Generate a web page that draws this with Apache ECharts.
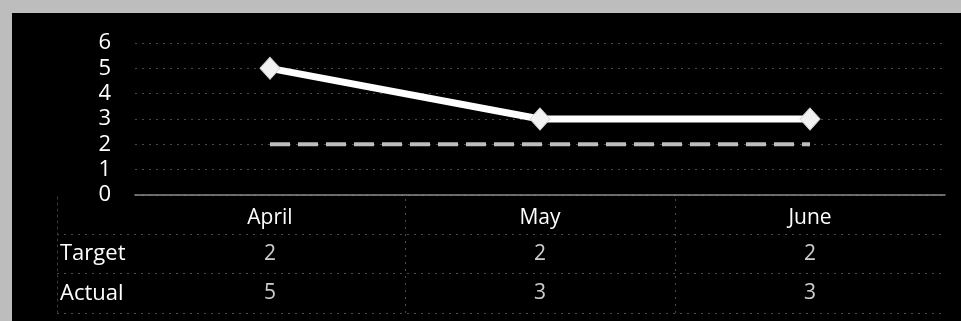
<!DOCTYPE html>
<html>
<head>
<meta charset="utf-8">
<script src="https://cdn.jsdelivr.net/npm/echarts@6/dist/echarts.min.js"></script>
<style>
  html, body { margin: 0; padding: 0; width: 961px; height: 321px; background: #bdbdbd; overflow: hidden; }
  #chart { position: absolute; left: 12px; top: 13px; width: 949px; height: 308px; background: #000; }
</style>
</head>
<body>
<div id="chart"></div>
<script>
const categories = ['April', 'May', 'June'];
const targetValues = [2, 2, 2];
const actualValues = [5, 3, 3];
const yTicks = [0, 1, 2, 3, 4, 5, 6];
const rowNames = ['Actual', 'Target', ''];

const FONT = 'Open Sans';
const faint = '#4a4a4a';

const tableData = [];
categories.forEach((c, i) => {
  tableData.push([i + 0.5, 'Target', targetValues[i]]);
  tableData.push([i + 0.5, 'Actual', actualValues[i]]);
});

const chart = echarts.init(document.getElementById('chart'), null, { renderer: 'canvas' });
// Table grid starts at the row-header column; category width ~270px, header offset 78px
const headerFrac = 78 / 270;

chart.setOption({
  backgroundColor: '#000',
  animation: false,
  grid: [
    { left: 123, right: 16, top: 30, height: 152 },
    { left: 45, right: 16, top: 182, height: 118 }
  ],
  xAxis: [
    {
      type: 'category', gridIndex: 0, data: categories, boundaryGap: true,
      axisLine: { show: true, lineStyle: { color: '#8c8c8c', width: 1.5 } },
      axisTick: { show: false },
      axisLabel: { color: '#fff', fontFamily: FONT, fontSize: 21, margin: 13 },
      splitLine: { show: false }
    },
    {
      type: 'value', gridIndex: 1, min: -headerFrac, max: categories.length,
      show: false
    }
  ],
  yAxis: [
    {
      type: 'value', gridIndex: 0, min: yTicks[0], max: yTicks[yTicks.length - 1], interval: 1,
      axisLine: { show: false }, axisTick: { show: false },
      axisLabel: { color: '#fff', fontFamily: FONT, fontSize: 22, margin: 24 },
      splitLine: { show: true, lineStyle: { color: faint, type: [2, 5], width: 1 } }
    },
    {
      type: 'category', gridIndex: 1, data: rowNames, boundaryGap: true,
      axisLine: { show: true, onZero: false, lineStyle: { color: '#3a3a3a', type: [2, 4], width: 1 } },
      axisTick: { show: false },
      axisLabel: { inside: true, margin: 3, color: '#fff', fontFamily: FONT, fontSize: 22 },
      splitLine: { show: true, showMaxLine: false, lineStyle: { color: faint, type: [2, 5], width: 1 } }
    }
  ],
  series: [
    {
      name: 'Target', type: 'line', xAxisIndex: 0, yAxisIndex: 0, data: targetValues,
      symbol: 'none',
      lineStyle: { color: '#bdbdbd', width: 4, type: [20, 8] },
      z: 3
    },
    {
      name: 'Actual', type: 'line', xAxisIndex: 0, yAxisIndex: 0, data: actualValues,
      symbol: 'diamond', symbolSize: [20, 22],
      lineStyle: { color: '#fff', width: 7 },
      itemStyle: { color: '#f2f2f2', borderColor: '#d8d8d8', borderWidth: 1 },
      z: 4
    },
    {
      name: 'table', type: 'scatter', xAxisIndex: 1, yAxisIndex: 1,
      data: tableData, symbolSize: 0,
      label: {
        show: true, position: 'inside', color: '#fff', fontFamily: FONT, fontSize: 21,
        formatter: p => String(p.value[2])
      },
      markLine: {
        silent: true, symbol: 'none', label: { show: false },
        lineStyle: { color: faint, type: [2, 5], width: 1 },
        data: categories.slice(1).map((c, i) => ({ xAxis: i + 1 }))
      }
    }
  ]
});
</script>
</body>
</html>
